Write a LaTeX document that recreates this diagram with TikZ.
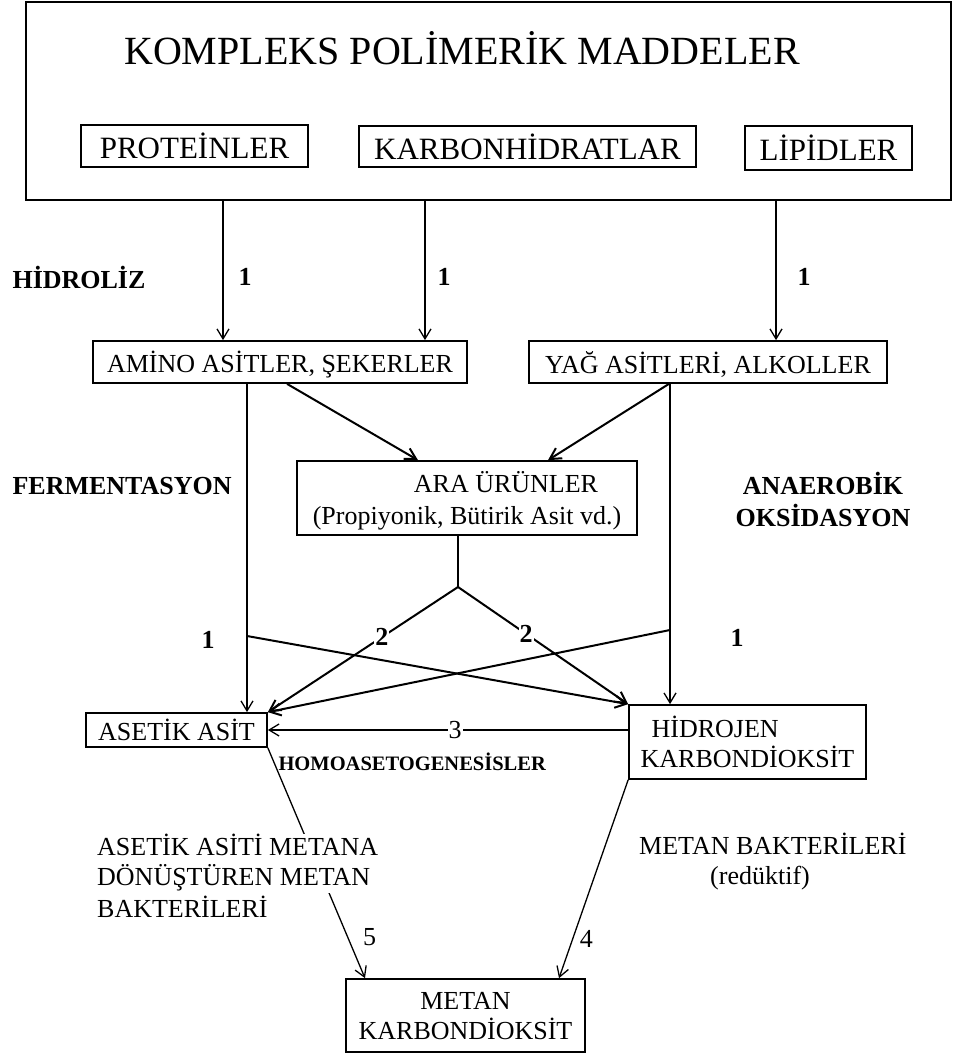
\documentclass[tikz,border=0pt]{standalone}
\usepackage{fontspec}
\setmainfont{Liberation Serif}
\usepackage{tikz}
\usetikzlibrary{arrows.meta}

\newcommand{\bigtxt}{\fontsize{40}{44}\selectfont}
\newcommand{\midtxt}{\fontsize{31}{36}\selectfont}
\newcommand{\stdtxt}{\fontsize{26}{30}\selectfont}
\newcommand{\smltxt}{\fontsize{20.5}{24}\selectfont\bfseries}

\begin{document}
\begin{tikzpicture}[x=1pt, y=-1pt,
  boks/.style={draw, line width=1.7pt, inner sep=0pt, text depth=0pt, font=\stdtxt},
  arr/.style={-{Straight Barb[length=10pt,width=12pt]}, line width=1.3pt},
  xarr/.style={-{Straight Barb[length=11pt,width=12pt]}, line width=2pt},
  lbl/.style={font=\stdtxt\bfseries},
  num/.style={font=\stdtxt, inner sep=2pt}]
\useasboundingbox (0,0) rectangle (953,1054);

\node[boks, minimum width=925pt, minimum height=198pt] (poly) at (488.5,101) {};
\node[font=\bigtxt] (title) at (462,48) {KOMPLEKS POLİMERİK MADDELER};
\node[boks, font=\midtxt, minimum width=227pt, minimum height=42pt] (prot) at (194.5,146) {PROTEİNLER};
\node[boks, font=\midtxt, minimum width=337pt, minimum height=41pt] (karb) at (527.5,146.5) {KARBONHİDRATLAR};
\node[boks, font=\midtxt, minimum width=167pt, minimum height=44pt] (lip) at (828.5,148) {LİPİDLER};

\node[boks, minimum width=374pt, minimum height=42pt] (amino) at (280,362) {AMİNO ASİTLER, ŞEKERLER};
\node[boks, minimum width=358pt, minimum height=42pt] (yag) at (708,362) {YAĞ ASİTLERİ, ALKOLLER};
\node[boks, minimum width=340pt, minimum height=74pt, align=center] (ara) at (467,498) {\hspace*{78pt}ARA ÜRÜNLER\\[2pt](Propiyonik, Bütirik Asit vd.)};
\node[boks, minimum width=181pt, minimum height=34pt] (aset) at (176.5,730) {ASETİK ASİT};
\node[boks, minimum width=237pt, minimum height=74pt, align=left] (hidro) at (747.5,742) {\hspace*{11pt}HİDROJEN\\KARBONDİOKSİT};
\node[boks, minimum width=239pt, minimum height=73pt, align=center] (metan) at (465.5,1015.5) {METAN\\KARBONDİOKSİT};

\node[lbl, anchor=west] (hidroliz) at (9,277) {HİDROLİZ};
\node[lbl] (h1) at (245,277) {1};
\node[lbl] (h2) at (444,277) {1};
\node[lbl] (h3) at (804,277) {1};
\node[lbl, anchor=west] (ferm) at (9,486) {FERMENTASYON};
\node[lbl, align=center] (anox) at (823,499) {ANAEROBİK\\[2pt]OKSİDASYON};
\node[lbl] (f1) at (208,640) {1};
\node[lbl] (o1) at (737,638) {1};
\node[font=\smltxt, anchor=west] (homo) at (275,762) {HOMOASETOGENESİSLER};

\coordinate (cp) at (223,0);
\coordinate (cc) at (425,0);
\coordinate (cl) at (776,0);
\coordinate (fl) at (247,0);
\coordinate (fr) at (670,0);
\coordinate (xl) at (247,636);
\coordinate (xr) at (670,630);
\coordinate (jn) at (458,587);

\draw[arr] (poly.south -| cp) -- (amino.north -| cp);
\draw[arr] (poly.south -| cc) -- (amino.north -| cc);
\draw[arr] (poly.south -| cl) -- (yag.north -| cl);
\draw[xarr] ([xshift=7pt]amino.south) -- ([xshift=-49pt]ara.north);
\draw[xarr] ([xshift=-39pt]yag.south) -- ([xshift=81pt]ara.north);
\draw[arr] (amino.south -| fl) -- (aset.north -| fl);
\draw[arr] (yag.south -| fr) -- (hidro.north -| fr);
\draw[xarr] (xl) -- (hidro.north west);
\draw[xarr] (xr) -- (aset.north east);
\draw[line width=1.3pt] (ara.south -| jn) -- (jn);
\draw[xarr] (jn) -- node[lbl, pos=0.4, fill=white, inner sep=1pt] (b1) {2} (aset.north east);
\draw[xarr] (jn) -- node[lbl, pos=0.4, fill=white, inner sep=1pt] (b2) {2} (hidro.north west);
\draw[arr] ([yshift=12pt]hidro.west) -- node[num, pos=0.48, fill=white, inner sep=1pt] (n3) {3} (aset.east);
\draw[arr] (aset.south east) -- node[num, pos=0.82, right=13pt] (n5) {5} ([xshift=-100.5pt]metan.north);
\draw[arr] (hidro.south west) -- node[num, pos=0.8, right=4.5pt] (n4) {4} ([xshift=93.5pt]metan.north);

\node[font=\stdtxt, align=left, anchor=west, fill=white, inner sep=1pt] (bakA) at (96,863) {ASETİK ASİTİ METANA\\DÖNÜŞTÜREN METAN};
\node[font=\stdtxt, anchor=west, inner sep=1pt] (bakB) at (96,907) {BAKTERİLERİ};
\node[font=\stdtxt, align=left, anchor=west, inner sep=1pt] (bakR) at (638,862) {METAN BAKTERİLERİ\\\hspace*{71pt}(redüktif)};
\end{tikzpicture}
\end{document}
